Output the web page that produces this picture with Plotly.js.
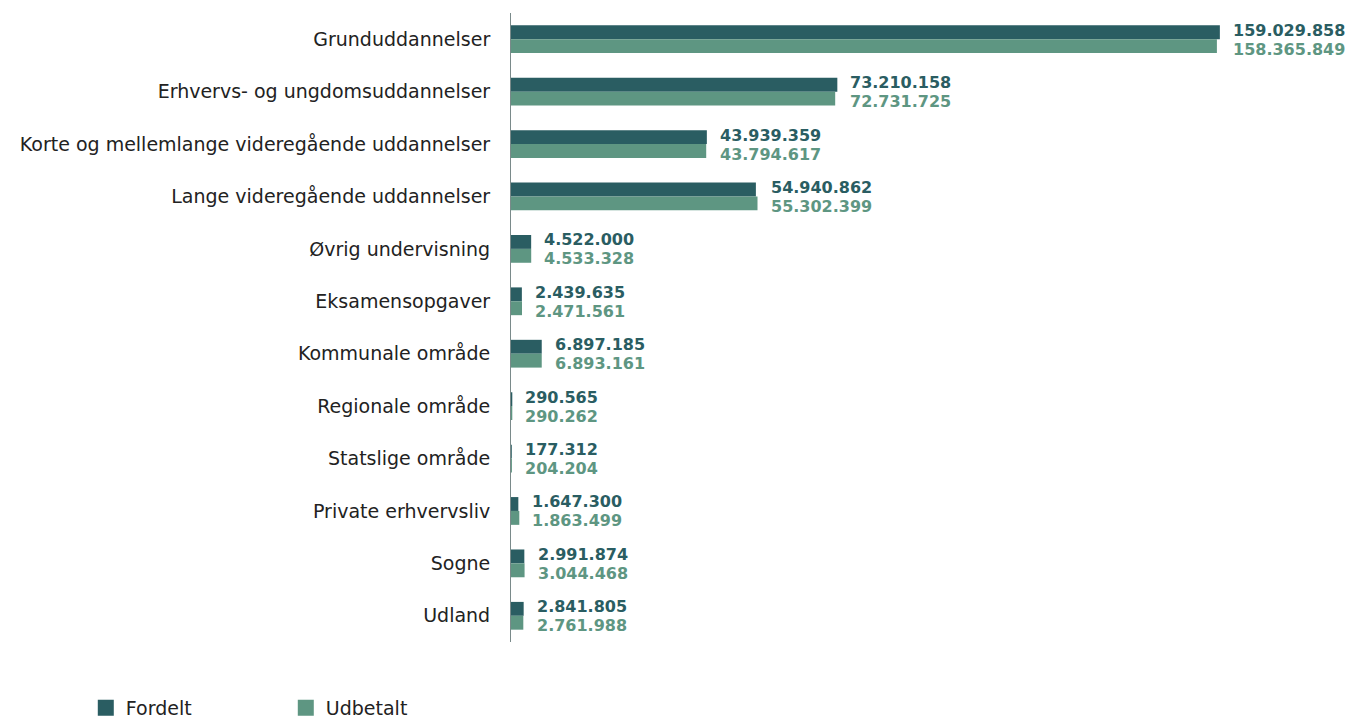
<!DOCTYPE html>
<html><head><meta charset="utf-8">
<script src="https://cdn.plot.ly/plotly-3.0.1.min.js"></script>
<style>html,body{margin:0;padding:0;background:#fff}#c{width:1353px;height:727px}</style>
</head><body><div id="c"></div>
<script>
const categories = ["Grunduddannelser","Erhvervs- og ungdomsuddannelser","Korte og mellemlange videregående uddannelser","Lange videregående uddannelser","Øvrig undervisning","Eksamensopgaver","Kommunale område","Regionale område","Statslige område","Private erhvervsliv","Sogne","Udland"];
const fordelt = [159029858,73210158,43939359,54940862,4522000,2439635,6897185,290565,177312,1647300,2991874,2841805];
const udbetalt = [158365849,72731725,43794617,55302399,4533328,2471561,6893161,290262,204204,1863499,3044468,2761988];
const seriesNames = ["Fordelt","Udbetalt"];
const colDark = "#2a5d62", colLight = "#5e9682";
const fmt = v => v.toString().replace(/\B(?=(\d{3})+(?!\d))/g, ".");

const traces = [
  {type:"bar",orientation:"h",name:seriesNames[0],y:categories,x:fordelt,marker:{color:colDark},hoverinfo:"skip",showlegend:false},
  {type:"bar",orientation:"h",name:seriesNames[1],y:categories,x:udbetalt,marker:{color:colLight},hoverinfo:"skip",showlegend:false},
  {type:"scatter",mode:"markers",name:seriesNames[0],x:[null],y:[null],marker:{symbol:"square",size:18,color:colDark},showlegend:true},
  {type:"scatter",mode:"markers",name:seriesNames[1],x:[null],y:[null],marker:{symbol:"square",size:18,color:colLight},showlegend:true}
];
const ann = [];
categories.forEach((c,i)=>{
  const m = Math.max(fordelt[i],udbetalt[i]);
  ann.push({x:m,y:c,xref:"x",yref:"y",text:"<b>"+fmt(fordelt[i])+"</b>",showarrow:false,xanchor:"left",yanchor:"middle",xshift:11,yshift:9,font:{color:colDark,size:16,family:"DejaVu Sans"}});
  ann.push({x:m,y:c,xref:"x",yref:"y",text:"<b>"+fmt(udbetalt[i])+"</b>",showarrow:false,xanchor:"left",yanchor:"middle",xshift:11,yshift:-10,font:{color:colLight,size:16,family:"DejaVu Sans"}});
});
const layout = {
  width:1353,height:727,
  margin:{l:511,r:0,t:13,b:82},
  paper_bgcolor:"#fff",plot_bgcolor:"#fff",
  barmode:"group",bargap:0.47,bargroupgap:0,
  font:{family:"DejaVu Sans",color:"#222"},
  xaxis:{range:[0,188.9e6],visible:false,showgrid:false,zeroline:false},
  yaxis:{type:"category",autorange:"reversed",showline:true,linecolor:"#7a8a8a",linewidth:1,showgrid:false,zeroline:false,ticks:"",ticklabelstandoff:16,tickfont:{size:19,color:"#222",family:"DejaVu Sans"}},
  showlegend:true,
  legend:{orientation:"h",x:-0.505,y:-0.105,xanchor:"left",yanchor:"middle",itemsizing:"trace",entrywidth:155,entrywidthmode:"pixels",font:{size:19,color:"#222",family:"DejaVu Sans"},traceorder:"normal"},
  annotations:ann
};
Plotly.newPlot("c",traces,layout,{displayModeBar:false,staticPlot:true});
</script></body></html>
